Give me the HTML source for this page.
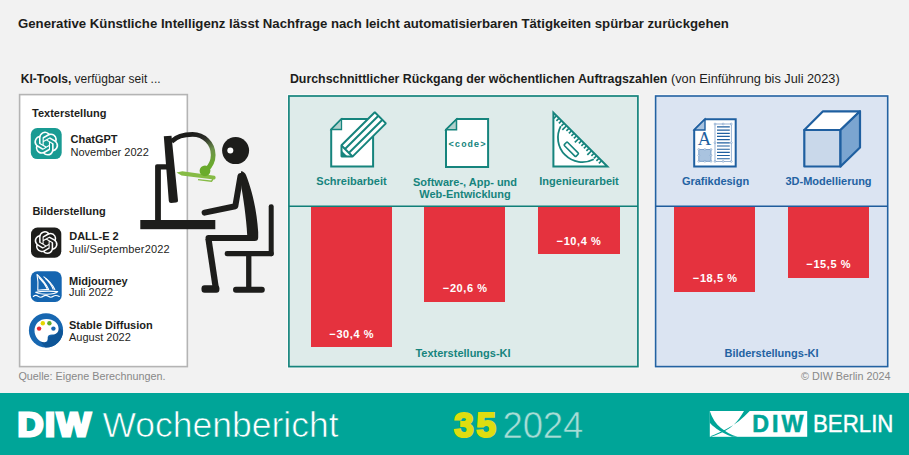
<!DOCTYPE html>
<html><head><meta charset="utf-8">
<style>
html,body{margin:0;padding:0;}
body{width:909px;height:455px;position:relative;overflow:hidden;background:#f2f2f2;font-family:"Liberation Sans",sans-serif;color:#1d1d1b;}
.t{position:absolute;line-height:1;white-space:nowrap;}
.b{font-weight:bold;}
.c{text-align:center;}
.box{position:absolute;box-sizing:border-box;}
.bar{position:absolute;background:#e5323e;}
.tl{color:#16847d;}
.bl{color:#2362a2;}
.w{color:#fff;}
svg{position:absolute;overflow:visible;}
</style></head><body>

<!-- title -->
<div class="t b" style="left:18px;top:16.6px;font-size:13.2px;">Generative Künstliche Intelligenz lässt Nachfrage nach leicht automatisierbaren Tätigkeiten spürbar zurückgehen</div>

<div class="t" style="left:20.8px;top:72.9px;font-size:12px;"><b>KI-Tools,</b> verfügbar seit ...</div>
<div class="t" style="left:289.9px;top:72.9px;font-size:12.4px;"><b>Durchschnittlicher Rückgang der wöchentlichen Auftragszahlen</b><span style="font-size:12.75px;"> (von Einführung bis Juli 2023)</span></div>

<!-- left box -->
<div class="box" style="left:19.5px;top:94.5px;width:168px;height:272px;background:#fff;"></div>

<div class="t b" style="left:32px;top:107.9px;font-size:11px;">Texterstellung</div>
<div class="t b" style="left:70.5px;top:133.5px;font-size:11px;">ChatGPT</div>
<div class="t" style="left:70.5px;top:146.5px;font-size:11px;">November 2022</div>
<div class="t b" style="left:32.4px;top:205.8px;font-size:11px;">Bilderstellung</div>
<div class="t b" style="left:69.2px;top:230.6px;font-size:11px;">DALL-E 2</div>
<div class="t" style="left:69.2px;top:243.5px;font-size:11px;letter-spacing:0.15px;">Juli/September2022</div>
<div class="t b" style="left:69px;top:276.1px;font-size:11px;">Midjourney</div>
<div class="t" style="left:69px;top:287.4px;font-size:11px;">Juli 2022</div>
<div class="t b" style="left:69px;top:320px;font-size:11px;">Stable Diffusion</div>
<div class="t" style="left:69px;top:331.5px;font-size:11px;">August 2022</div>

<!-- teal panel -->
<div class="box" style="left:289px;top:96px;width:349px;height:271px;background:#deebea;"></div>
<!-- blue panel -->
<div class="box" style="left:655.5px;top:96px;width:232px;height:271px;background:#dbe4f2;"></div>


<svg style="left:0;top:0" width="909" height="455" viewBox="0 0 909 455">
<rect x="19.6" y="94.6" width="167.75" height="272" fill="none" stroke="#b4b4b4" stroke-width="1.6"/>
<rect x="287.55" y="94.65" width="351.7" height="273.3" fill="none" stroke="rgba(255,255,255,0.6)" stroke-width="1"/>
<rect x="654.25" y="94.65" width="234.8" height="273.3" fill="none" stroke="rgba(255,255,255,0.6)" stroke-width="1"/>
<rect x="288.9" y="96" width="349" height="270.6" fill="none" stroke="#16847d" stroke-width="1.7"/>
<path d="M288.9 206.35H637.9" stroke="#0f7f78" stroke-width="1.5"/>
<rect x="655.6" y="96" width="232.1" height="270.6" fill="none" stroke="#2362a2" stroke-width="1.6"/>
<path d="M655.6 206.35H887.7" stroke="#1f5c9c" stroke-width="1.5"/>
</svg>
<div class="bar" style="left:311px;top:207px;width:81px;height:140px;"></div>
<div class="bar" style="left:424.2px;top:207px;width:81.25px;height:94.6px;"></div>
<div class="bar" style="left:538.1px;top:207px;width:81.6px;height:47.3px;"></div>
<div class="bar" style="left:674.2px;top:207px;width:81.1px;height:84.8px;"></div>
<div class="bar" style="left:788.2px;top:207px;width:80.8px;height:70.7px;"></div>

<div class="t b c w" style="letter-spacing:0.6px;text-indent:0.6px;left:311px;width:81px;top:328.7px;font-size:11px;">−30,4 %</div>
<div class="t b c w" style="letter-spacing:0.6px;text-indent:0.6px;left:424.5px;width:81px;top:283.2px;font-size:11px;">−20,6 %</div>
<div class="t b c w" style="letter-spacing:0.6px;text-indent:0.6px;left:538px;width:81.5px;top:236px;font-size:11px;">−10,4 %</div>
<div class="t b c w" style="letter-spacing:0.6px;text-indent:0.6px;left:674.5px;width:81px;top:273.2px;font-size:11px;">−18,5 %</div>
<div class="t b c w" style="letter-spacing:0.6px;text-indent:0.6px;left:788px;width:81px;top:259.4px;font-size:11px;">−15,5 %</div>

<div class="t b c tl" style="left:301px;width:101px;top:175.7px;font-size:11px;">Schreibarbeit</div>
<div class="t b c tl" style="left:405px;width:120px;top:175.7px;font-size:11px;line-height:12.2px;">Software-, App- und<br>Web-Entwicklung</div>
<div class="t b c tl" style="left:528px;width:102px;top:175.7px;font-size:11px;">Ingenieurarbeit</div>
<div class="t b c bl" style="left:665px;width:101px;top:175.7px;font-size:11px;">Grafikdesign</div>
<div class="t b c bl" style="left:778px;width:101px;top:175.7px;font-size:11px;">3D-Modellierung</div>

<div class="t b c tl" style="left:363px;width:200px;top:348.1px;font-size:11px;">Texterstellungs-KI</div>
<div class="t b c bl" style="left:671.5px;width:200px;top:348.1px;font-size:11px;">Bilderstellungs-KI</div>

<div class="t" style="left:18.4px;top:370.9px;font-size:10.8px;color:#888;">Quelle: Eigene Berechnungen.</div>
<div class="t" style="right:18.5px;top:370.9px;font-size:10.8px;color:#888;">© DIW Berlin 2024</div>

<!-- footer -->
<div style="position:absolute;left:0;top:393px;width:909px;height:62px;background:#00a598;"></div>
<div class="t b w" style="left:17.5px;top:405.9px;font-size:36px;letter-spacing:1.6px;-webkit-text-stroke:3px #fff;transform:scaleY(0.93);transform-origin:0 30.5px;">DIW</div>
<div class="t w" style="left:102.4px;top:408.3px;font-size:35.5px;-webkit-text-stroke:0.7px #00a598;">Wochenbericht</div>
<div class="t b" style="left:454px;top:408px;font-size:35.5px;color:#dedd10;letter-spacing:2.4px;-webkit-text-stroke:2.2px #dedd10;">35</div>
<div class="t" style="left:502.5px;top:408.2px;font-size:36.6px;color:#a6ddd6;letter-spacing:-0.2px;-webkit-text-stroke:0.6px #00a598;">2024</div>

<!--SVG-->
<svg style="left:0;top:0" width="909" height="455" viewBox="0 0 909 455">
<defs>
<linearGradient id="hg" gradientUnits="userSpaceOnUse" x1="194" y1="134" x2="211" y2="166">
<stop offset="0" stop-color="#1d1d1b"/><stop offset="0.25" stop-color="#2e2f2a"/><stop offset="0.6" stop-color="#6b8f4a"/><stop offset="1" stop-color="#6aab2c"/></linearGradient>
</defs>
<!-- ChatGPT icon -->
<rect x="30.8" y="128.1" width="30.9" height="31" rx="6.5" fill="#199b93"/>
<g transform="translate(34.3 131.6) scale(1)"><path fill="#fff" d="M22.2819 9.8211a5.9847 5.9847 0 0 0-.5157-4.9108 6.0462 6.0462 0 0 0-6.5098-2.9A6.0651 6.0651 0 0 0 4.9807 4.1818a5.9847 5.9847 0 0 0-3.9977 2.9 6.0462 6.0462 0 0 0 .7427 7.0966 5.98 5.98 0 0 0 .511 4.9107 6.051 6.051 0 0 0 6.5146 2.9001A5.9847 5.9847 0 0 0 13.2599 24a6.0557 6.0557 0 0 0 5.7718-4.2058 5.9894 5.9894 0 0 0 3.9977-2.9001 6.0557 6.0557 0 0 0-.7475-7.0729zm-9.022 12.6081a4.4755 4.4755 0 0 1-2.8764-1.0408l.1419-.0804 4.7783-2.7582a.7948.7948 0 0 0 .3927-.6813v-6.7369l2.02 1.1686a.071.071 0 0 1 .038.052v5.5826a4.504 4.504 0 0 1-4.4945 4.4944zm-9.6607-4.1254a4.4708 4.4708 0 0 1-.5346-3.0137l.142.0852 4.783 2.7582a.7712.7712 0 0 0 .7806 0l5.8428-3.3685v2.3324a.0804.0804 0 0 1-.0332.0615L9.74 19.9502a4.4992 4.4992 0 0 1-6.1408-1.6464zM2.3408 7.8956a4.485 4.485 0 0 1 2.3655-1.9728V11.6a.7664.7664 0 0 0 .3879.6765l5.8144 3.3543-2.0201 1.1685a.0757.0757 0 0 1-.071 0l-4.8303-2.7865A4.504 4.504 0 0 1 2.3408 7.872zm16.5963 3.8558L13.1038 8.364 15.1192 7.2a.0757.0757 0 0 1 .071 0l4.8303 2.7913a4.4944 4.4944 0 0 1-.6765 8.1042v-5.6772a.79.79 0 0 0-.407-.667zm2.0107-3.0231l-.142-.0852-4.7735-2.7818a.7759.7759 0 0 0-.7854 0L9.409 9.2297V6.8974a.0662.0662 0 0 1 .0284-.0615l4.8303-2.7866a4.4992 4.4992 0 0 1 6.6802 4.66zM8.3065 12.863l-2.02-1.1638a.0804.0804 0 0 1-.038-.0567V6.0742a4.4992 4.4992 0 0 1 7.3757-3.4537l-.142.0805L8.704 5.459a.7948.7948 0 0 0-.3927.6813zm1.0976-2.3654l2.602-1.4998 2.6069 1.4998v2.9994l-2.5974 1.4997-2.6067-1.4997Z"/></g>
<!-- DALL-E icon -->
<rect x="31" y="227.5" width="30.3" height="30.2" rx="6.5" fill="#1d1d1b"/>
<g transform="translate(34.6 231) scale(0.96)"><path fill="#fff" d="M22.2819 9.8211a5.9847 5.9847 0 0 0-.5157-4.9108 6.0462 6.0462 0 0 0-6.5098-2.9A6.0651 6.0651 0 0 0 4.9807 4.1818a5.9847 5.9847 0 0 0-3.9977 2.9 6.0462 6.0462 0 0 0 .7427 7.0966 5.98 5.98 0 0 0 .511 4.9107 6.051 6.051 0 0 0 6.5146 2.9001A5.9847 5.9847 0 0 0 13.2599 24a6.0557 6.0557 0 0 0 5.7718-4.2058 5.9894 5.9894 0 0 0 3.9977-2.9001 6.0557 6.0557 0 0 0-.7475-7.0729zm-9.022 12.6081a4.4755 4.4755 0 0 1-2.8764-1.0408l.1419-.0804 4.7783-2.7582a.7948.7948 0 0 0 .3927-.6813v-6.7369l2.02 1.1686a.071.071 0 0 1 .038.052v5.5826a4.504 4.504 0 0 1-4.4945 4.4944zm-9.6607-4.1254a4.4708 4.4708 0 0 1-.5346-3.0137l.142.0852 4.783 2.7582a.7712.7712 0 0 0 .7806 0l5.8428-3.3685v2.3324a.0804.0804 0 0 1-.0332.0615L9.74 19.9502a4.4992 4.4992 0 0 1-6.1408-1.6464zM2.3408 7.8956a4.485 4.485 0 0 1 2.3655-1.9728V11.6a.7664.7664 0 0 0 .3879.6765l5.8144 3.3543-2.0201 1.1685a.0757.0757 0 0 1-.071 0l-4.8303-2.7865A4.504 4.504 0 0 1 2.3408 7.872zm16.5963 3.8558L13.1038 8.364 15.1192 7.2a.0757.0757 0 0 1 .071 0l4.8303 2.7913a4.4944 4.4944 0 0 1-.6765 8.1042v-5.6772a.79.79 0 0 0-.407-.667zm2.0107-3.0231l-.142-.0852-4.7735-2.7818a.7759.7759 0 0 0-.7854 0L9.409 9.2297V6.8974a.0662.0662 0 0 1 .0284-.0615l4.8303-2.7866a4.4992 4.4992 0 0 1 6.6802 4.66zM8.3065 12.863l-2.02-1.1638a.0804.0804 0 0 1-.038-.0567V6.0742a4.4992 4.4992 0 0 1 7.3757-3.4537l-.142.0805L8.704 5.459a.7948.7948 0 0 0-.3927.6813zm1.0976-2.3654l2.602-1.4998 2.6069 1.4998v2.9994l-2.5974 1.4997-2.6067-1.4997Z"/></g>
<!-- Midjourney icon -->
<rect x="30.8" y="271.3" width="30.9" height="30.7" rx="6.5" fill="#1565b0"/>
<g fill="none" stroke="#fff" stroke-width="1.1" stroke-linecap="round" stroke-linejoin="round">
<path d="M37 274.5C41 278 45.5 283 48.7 289.5C45 289.3 41 289.6 37.8 290.3C38.3 285 38 279.5 37 274.5Z"/>
<path d="M39 277.5C42.5 281 45.5 285 47 288.5"/>
<path d="M43.9 276.9C49 280.5 52.5 284.5 54.8 289.5"/>
<path d="M45.5 278.5C49.5 282 51.8 285.5 53.2 289.3"/>
<path d="M35.7 292.4C42 291 50 290.8 57.7 291.6C56 293.5 52 294.3 46 294.2C41 294.1 37.5 293.5 35.7 292.4Z"/>
<path d="M33.3 296.5C35 295 36.5 295 38.2 296.3C40 297.6 41.6 297.6 43.2 296.3C45 295 46.6 295 48.3 296.3C50 297.6 51.6 297.6 53.3 296.3C55 295 56.6 295 59.3 296.5"/>
</g>
<!-- Stable diffusion icon -->
<clipPath id="sdc"><circle cx="46" cy="330.4" r="17.1"/></clipPath>
<circle cx="46" cy="330.4" r="17.1" fill="#1767b1"/>
<path clip-path="url(#sdc)" d="M40.5 341.5L47.7 342L47.7 337.4L55.1 334.3L58.6 327L82 350L62 370Z" fill="#0e5597"/>
<path d="M46.5 318.9C53.5 318.9 58.6 323.2 58.6 328.5C58.6 332.5 56 334.5 52 334.6C49.2 334.7 47.7 335.8 47.7 337.6C47.7 340 47.5 342.2 44.5 342.2C38.5 342.2 34.5 336.5 34.5 330.5C34.5 323.8 39.5 318.9 46.5 318.9Z" fill="#fff"/>
<circle cx="39.1" cy="328.6" r="2.2" fill="#e3262f"/>
<circle cx="42.8" cy="323.3" r="2.2" fill="#e6d600"/>
<circle cx="49.4" cy="323.3" r="2.2" fill="#5faa2f"/>
<circle cx="53.4" cy="328.6" r="2.2" fill="#1767b1"/>

<!-- figure -->
<g fill="#1d1d1b">
<rect x="140.3" y="220" width="75" height="9.2"/>
<path d="M155.1 220.5V166Q155.1 164.2 157 164.2H167V169.6H160.9V220.5Z"/>
<path d="M163.8 136.2L171.5 135.8L178 200.5Q178.2 202.5 176 202.6L171 203Q169 203 168.8 201Z"/>
<circle cx="235.6" cy="150.6" r="13.5"/>
<path d="M241 171.2C243.5 171.2 245 173 246 175C252 190 256.8 210 258.2 232L258.2 237.5Q258.2 241 254.7 241L247.5 241C247 225 244.5 205 241.5 188Z"/>
<rect x="224.7" y="251" width="49" height="5.2" rx="2.3"/>
<rect x="268.7" y="204.2" width="5" height="52" rx="2.4"/>
<rect x="246.1" y="255" width="5.3" height="33"/>
<rect x="233" y="286.8" width="31.8" height="5.9" rx="2.9"/>
<rect x="201.5" y="285.3" width="17.9" height="7.4" rx="3"/>
</g>
<g stroke="#1d1d1b" fill="none" stroke-linecap="round">
<path d="M240.5 176L235.3 206.3L204.6 212.6" stroke-width="6" stroke-linejoin="round"/>
<path d="M208.5 238L250 238" stroke-width="6"/>
<path d="M208.4 238.5L215.8 288" stroke-width="6.2" stroke-linecap="butt"/>
</g>
<circle cx="230.3" cy="150.5" r="3" fill="#fff"/>
<!-- headset -->
<path d="M171.5 141.5C176.5 136.5 184 134.4 192.5 134.4C204 134.4 213.2 143.5 213.2 155C213.2 161 210.5 166 206.5 170" fill="none" stroke="url(#hg)" stroke-width="4.7"/>
<path d="M176.5 172.5L182.3 171.2L214.5 175.8Q216 176.5 215.6 178Q215.3 179.6 214 179.6L181.5 175.6Z" fill="#86bb45"/>
<path d="M198 179.6L211.5 181.2L213 179" fill="none" stroke="#86bb45" stroke-width="1.4"/>
<circle cx="205" cy="170.8" r="5.4" fill="#6aab2c"/>

<!-- Schreibarbeit icon -->
<g stroke="#16847d" stroke-width="2" stroke-linejoin="miter">
<path d="M331.2 129.5L341.5 119H373.1V166.6H331.2Z" fill="#fff"/>
<path d="M331.2 129.5L341.5 119V129.5Z" fill="#b2d0cd" stroke-width="1.3"/>
<path d="M341.5 145.3L374.8 112.3L385.9 123.4L352.5 156.6H341.5V145.3Z" fill="#fff" stroke-linejoin="bevel"/>
<path d="M341.5 145.5L352.5 156.5M344.5 149.5L378.7 115.5M348.5 153.2L382.7 119.5" fill="none"/>
<path d="M341.5 150.5V156.3H347.3Z" fill="#16847d" stroke="none"/>
</g>
<!-- code icon -->
<g stroke="#16847d" stroke-width="2">
<path d="M446 129.8L457 118.9H488.1V167.1H446Z" fill="#fff"/>
<path d="M446 129.8L456.5 119.2V129.8Z" fill="#b2d0cd" stroke-width="1.5"/>
</g>
<text x="467.5" y="147" text-anchor="middle" style="font-family:'Liberation Mono';font-weight:bold;font-size:9px;letter-spacing:0.95px" fill="#16847d">&lt;code&gt;</text>
<!-- ruler icon -->
<path d="M553.4 112.6V166.6H607.4Z" fill="#fff" stroke="#16847d" stroke-width="2" stroke-linejoin="miter"/>
<path d="M556.80 115.50L553.90 118.40M559.30 118.00L556.40 120.90M561.80 120.50L558.90 123.40M564.30 123.00L561.40 125.90M566.80 125.50L562.34 129.96M569.30 128.00L566.40 130.90M571.80 130.50L568.90 133.40M574.30 133.00L571.40 135.90M576.80 135.50L573.90 138.40M579.30 138.00L574.84 142.46M581.80 140.50L578.90 143.40M584.30 143.00L581.40 145.90M586.80 145.50L583.90 148.40M589.30 148.00L586.40 150.90M591.80 150.50L587.34 154.96M594.30 153.00L591.40 155.90M596.80 155.50L593.90 158.40M599.30 158.00L596.40 160.90M601.80 160.50L598.90 163.40" stroke="#16847d" stroke-width="1.7" fill="none"/>
<path d="M560.8 126.2A24.4 24.4 0 0 0 593.8 159.2" fill="none" stroke="#16847d" stroke-width="1.8"/>
<rect x="563" y="147" width="16.6" height="4.6" rx="1" transform="rotate(45 571.3 149.3)" fill="#fff" stroke="#16847d" stroke-width="1.6"/>
<!-- grafik icon -->
<g stroke="#1f5fa0" stroke-width="2">
<path d="M694.2 130L705 119.3H735.7V166.6H694.2Z" fill="#fff"/>
<path d="M694.2 130L705 119.3V130Z" fill="#a9c3df" stroke-width="1.4"/>
</g>
<text x="704.4" y="144.6" text-anchor="middle" style="font-family:'Liberation Serif';font-size:18.6px" fill="#1f5fa0">A</text>
<rect x="698.8" y="149.5" width="12.2" height="11.8" fill="#a9c3df" stroke="#6b93c2" stroke-width="0.8"/>
<g fill="#fff" stroke="#6b93c2" stroke-width="0.6">
<circle cx="698.8" cy="149.5" r="0.9"/><circle cx="704.9" cy="149.5" r="0.9"/><circle cx="711" cy="149.5" r="0.9"/>
<circle cx="698.8" cy="155.4" r="0.9"/><circle cx="711" cy="155.4" r="0.9"/>
<circle cx="698.8" cy="161.3" r="0.9"/><circle cx="704.9" cy="161.3" r="0.9"/><circle cx="711" cy="161.3" r="0.9"/>
</g>
<rect x="715" y="124" width="16.3" height="37.4" fill="none" stroke="#7d9fc8" stroke-width="0.8"/>
<path stroke-width="1.15" d="M717 126.8H729.8M717 130.1H729.8M717 133.4H729.8M717 136.4H729.8M717 139.6H729.8M717 142.8H729.8M717 146H729.8M717 149.2H729.8M717 152.4H729.8M717 155.5H729.8M717 158.7H729.8" stroke="#1f5fa0"/>
<g fill="#fff" stroke="#6b93c2" stroke-width="0.6">
<circle cx="715" cy="124" r="0.9"/><circle cx="723.1" cy="124" r="0.9"/><circle cx="731.3" cy="124" r="0.9"/>
<circle cx="715" cy="142.7" r="0.9"/><circle cx="731.3" cy="142.7" r="0.9"/>
<circle cx="715" cy="161.4" r="0.9"/><circle cx="723.1" cy="161.4" r="0.9"/><circle cx="731.3" cy="161.4" r="0.9"/>
</g>
<!-- cube icon -->
<g stroke="#1f5fa0" stroke-width="2.2" stroke-linejoin="round">
<path d="M804.3 130H840.5V166.5H804.3Z" fill="#c9d8ea"/>
<path d="M804.3 130L823 111.3H860L840.5 130Z" fill="#fff"/>
<path d="M840.5 130L860 111.3V147.5L840.5 166.5Z" fill="#7ba5d0"/>
</g>

<!-- DIW Berlin logo -->
<rect x="709.8" y="411" width="97.4" height="25.8" fill="#fff"/>
<path d="M709.8 411C712 418 716 424 721 428C726 432 731 435 737.5 436.8L732 436.8C726 434.5 721 432 716.5 428.8C713.5 426.5 711.5 424.8 709.8 422.8Z" fill="#00a598"/>
<path d="M749.7 411C743 418.5 735 424.5 726 429.2C720.5 432 715.5 434.3 710.3 436.2L711.3 436.8C716 435 721 433 725 431C731.5 427.5 738 422 744 411Z" fill="#00a598"/>
</svg>
<!--/SVG-->
<div class="t b" style="left:752.3px;top:413.4px;font-size:23.2px;color:#00a598;letter-spacing:3px;-webkit-text-stroke:0.6px #00a598;">DIW</div>
<div class="t w" style="left:813px;top:413.3px;font-size:23.2px;transform:scaleX(0.96);transform-origin:0 0;-webkit-text-stroke:0.4px #fff;">BERLIN</div>

</body></html>
